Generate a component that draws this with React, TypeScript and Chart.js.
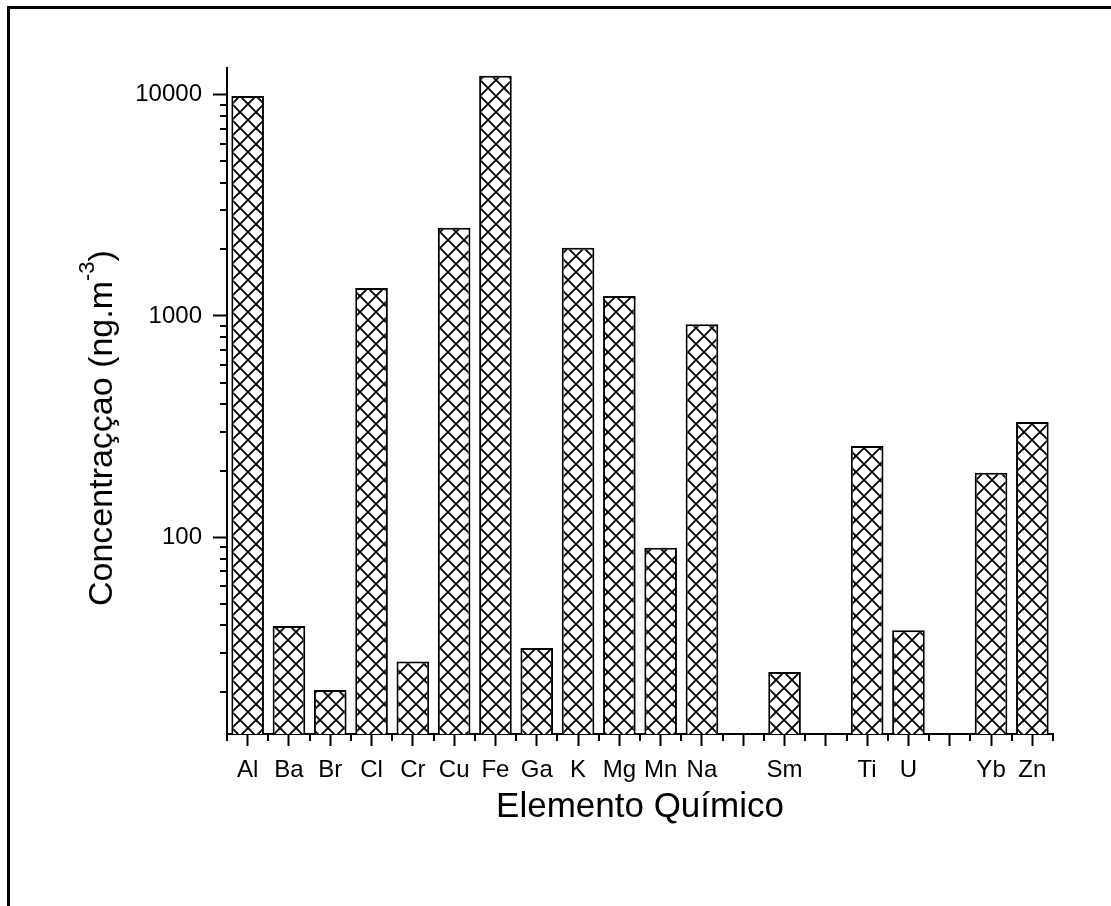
import React, { useEffect, useRef } from 'react';
import { Chart, registerables } from 'chart.js';

Chart.register(...registerables);

const FONT = "'Liberation Sans', Arial, Helvetica, sans-serif";

const categories = ['Al', 'Ba', 'Br', 'Cl', 'Cr', 'Cu', 'Fe', 'Ga', 'K', 'Mg', 'Mn', 'Na', '', 'Sm', '', 'Ti', 'U', '', 'Yb', 'Zn'];
const concentrations = [9860, 39.7, 20.4, 1338, 27.4, 2506, 12190, 31.6, 2035, 1231, 89.7, 917, null, 24.6, null, 258.6, 38.0, null, 195.8, 332];

const yMajorTicks = [100, 1000, 10000];
const yTickLabels = ['100', '1000', '10000'];
const yMinorMultipliers = [2, 3, 4, 5, 6, 7, 8, 9];
const yDecades = [10, 100, 1000];
const yMin = 12.9;
const yMax = 13200;

const xTitle = 'Elemento Químico';
const yTitleMain = 'Concentraççao (ng.m';
const yTitleSup = '-3';
const yTitleEnd = ')';

const yTickValues: number[] = [];
yDecades.forEach((d) => yMinorMultipliers.forEach((m) => yTickValues.push(d * m)));
yMajorTicks.forEach((v) => yTickValues.push(v));
yTickValues.sort((a, b) => a - b);

function makeHatch(): CanvasPattern | string {
  const P = 16;
  const tile = document.createElement('canvas');
  tile.width = P;
  tile.height = P;
  const c = tile.getContext('2d');
  if (!c) return '#fff';
  c.fillStyle = '#fff';
  c.fillRect(0, 0, P, P);
  c.strokeStyle = '#000';
  c.lineWidth = 1.9;
  for (let k = -1; k <= 1; k++) {
    c.beginPath();
    c.moveTo(k * P, 0);
    c.lineTo(k * P + P, P);
    c.stroke();
    c.beginPath();
    c.moveTo(k * P + P, 0);
    c.lineTo(k * P, P);
    c.stroke();
  }
  const pat = c.createPattern(tile, 'repeat');
  return pat || '#fff';
}

const decorPlugin = {
  id: 'decor',
  beforeDraw(chart: any) {
    const ctx = chart.ctx;
    ctx.save();
    ctx.fillStyle = '#fff';
    ctx.fillRect(0, 0, chart.width, chart.height);
    ctx.restore();
  },
  afterDraw(chart: any) {
    const ctx = chart.ctx;
    const xs = chart.scales.x;
    const ys = chart.scales.y;
    const area = chart.chartArea;
    ctx.save();
    ctx.strokeStyle = '#000';
    ctx.lineWidth = 2;
    // y minor ticks
    ys.ticks.forEach((t: any) => {
      if (yMajorTicks.includes(t.value)) return;
      const py = Math.round(ys.getPixelForValue(t.value));
      ctx.beginPath();
      ctx.moveTo(area.left - 7, py);
      ctx.lineTo(area.left, py);
      ctx.stroke();
    });
    // x minor ticks at category boundaries
    const half = (xs.getPixelForValue(1) - xs.getPixelForValue(0)) / 2;
    for (let i = 0; i <= categories.length; i++) {
      const px = Math.round(xs.getPixelForValue(i) - half);
      ctx.beginPath();
      ctx.moveTo(px, area.bottom);
      ctx.lineTo(px, area.bottom + 7);
      ctx.stroke();
    }
    // outer frame
    ctx.lineWidth = 3;
    ctx.beginPath();
    ctx.moveTo(8.5, chart.height + 5);
    ctx.lineTo(8.5, 7.5);
    ctx.lineTo(chart.width + 5, 7.5);
    ctx.stroke();
    // y title with superscript
    ctx.fillStyle = '#000';
    ctx.translate(112, 606);
    ctx.rotate(-Math.PI / 2);
    ctx.textAlign = 'left';
    ctx.textBaseline = 'alphabetic';
    ctx.font = `34px ${FONT}`;
    ctx.fillText(yTitleMain, 0, 0);
    let w = ctx.measureText(yTitleMain).width;
    ctx.font = `22px ${FONT}`;
    ctx.fillText(yTitleSup, w, -18);
    w += ctx.measureText(yTitleSup).width;
    ctx.font = `34px ${FONT}`;
    ctx.fillText(yTitleEnd, w, 0);
    ctx.restore();
  },
};

export default function App() {
  const canvasRef = useRef<HTMLCanvasElement | null>(null);

  useEffect(() => {
    const canvas = canvasRef.current;
    if (!canvas) return;
    const hatch = makeHatch();
    const chart = new Chart(canvas, {
      type: 'bar',
      data: {
        labels: categories,
        datasets: [
          {
            data: concentrations as any,
            backgroundColor: hatch as any,
            borderColor: '#000',
            borderWidth: 2,
            barPercentage: 0.79,
            categoryPercentage: 1,
          },
        ],
      },
      options: {
        responsive: false,
        animation: false,
        devicePixelRatio: 1,
        layout: { padding: { left: 0, top: 68, right: 58, bottom: 0 } },
        plugins: {
          legend: { display: false },
          tooltip: { enabled: false },
          title: { display: false },
        },
        scales: {
          x: {
            type: 'category',
            offset: true,
            grid: {
              display: true,
              drawOnChartArea: false,
              drawTicks: true,
              offset: false,
              tickLength: 12,
              tickWidth: 2,
              tickColor: '#000',
            },
            border: { display: true, color: '#000', width: 2 },
            ticks: {
              color: '#000',
              font: { family: FONT, size: 24 },
              padding: 10,
              autoSkip: false,
              maxRotation: 0,
              minRotation: 0,
            },
            title: {
              display: true,
              text: xTitle,
              color: '#000',
              font: { family: FONT, size: 35 },
              padding: { top: 0, bottom: 78 },
            },
            afterFit: (s: any) => {
              s.height = 172;
            },
          },
          y: {
            type: 'logarithmic',
            min: yMin,
            max: yMax,
            grid: {
              display: true,
              drawOnChartArea: false,
              drawTicks: true,
              tickLength: 14,
              tickWidth: 2,
              tickColor: (c: any) =>
                c.tick && yMajorTicks.includes(c.tick.value) ? '#000' : 'rgba(0,0,0,0)',
            },
            border: { display: true, color: '#000', width: 2 },
            ticks: {
              color: '#000',
              font: { family: FONT, size: 24 },
              padding: 11,
              autoSkip: false,
              callback: (v: any) => {
                const idx = yMajorTicks.indexOf(Number(v));
                return idx >= 0 ? yTickLabels[idx] : '';
              },
            },
            afterBuildTicks: (s: any) => {
              s.ticks = yTickValues.map((v) => ({ value: v }));
            },
            afterFit: (s: any) => {
              s.width = 227;
            },
          },
        },
      } as any,
      plugins: [decorPlugin],
    });
    return () => chart.destroy();
  }, []);

  return (
    <div style={{ position: 'fixed', left: 0, top: 0, width: 1111, height: 906, background: '#fff' }}>
      <canvas ref={canvasRef} width={1111} height={906} />
    </div>
  );
}
